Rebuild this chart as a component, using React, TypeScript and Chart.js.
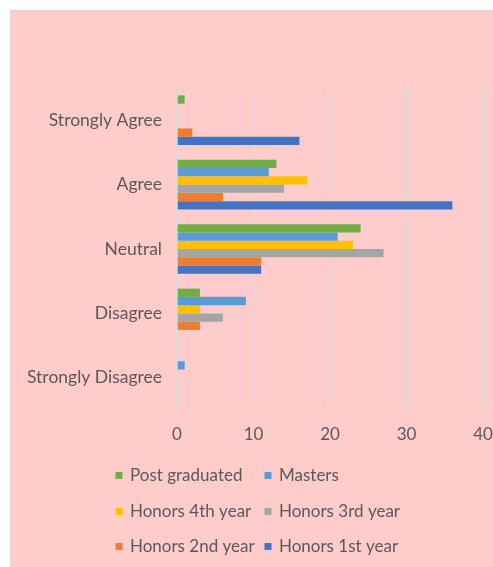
import React, { useEffect, useRef } from "react";
import { Chart, registerables } from "chart.js";

Chart.register(...registerables);

const categories = ["Strongly Agree", "Agree", "Neutral", "Disagree", "Strongly Disagree"];
const seriesNames = [
  "Post graduated",
  "Masters",
  "Honors 4th year",
  "Honors 3rd year",
  "Honors 2nd year",
  "Honors 1st year",
];
const postGraduated = [1, 13, 24, 3, 0];
const masters = [0, 12, 21, 9, 1];
const honors4th = [0, 17, 23, 3, 0];
const honors3rd = [0, 14, 27, 6, 0];
const honors2nd = [2, 6, 11, 3, 0];
const honors1st = [16, 36, 11, 0, 0];
const xTicks = [0, 10, 20, 30, 40];

const seriesValues = [postGraduated, masters, honors4th, honors3rd, honors2nd, honors1st];
const seriesColors = ["#70AD47", "#5B9BD5", "#FFC000", "#A5A5A5", "#ED7D31", "#4472C4"];

const FONT = "Lato, 'Open Sans', sans-serif";
const TEXT = "#595959";

const gridLegend = {
  id: "gridLegend",
  afterDraw(chart: any) {
    const ctx = chart.ctx;
    const colX = [104.5, 253.5];
    const rowY = [464.5, 500.5, 535.5];
    ctx.save();
    ctx.font = `17px ${FONT}`;
    ctx.textBaseline = "middle";
    ctx.textAlign = "left";
    chart.data.datasets.forEach((ds: any, i: number) => {
      const c = i % 2;
      const r = Math.floor(i / 2);
      const x = colX[c];
      const y = rowY[r];
      ctx.fillStyle = ds.backgroundColor;
      ctx.fillRect(x, y - 3.5, 7, 7);
      ctx.fillStyle = TEXT;
      ctx.fillText(ds.label, x + 14.5, y);
    });
    ctx.restore();
  },
};

export default function App() {
  const ref = useRef<HTMLCanvasElement>(null);
  useEffect(() => {
    if (!ref.current) return;
    const chart = new Chart(ref.current, {
      type: "bar",
      data: {
        labels: categories,
        datasets: seriesNames.map((name, i) => ({
          label: name,
          data: seriesValues[i],
          backgroundColor: seriesColors[i],
          borderWidth: 0,
          categoryPercentage: 0.77,
          barPercentage: 1,
        })),
      },
      options: {
        indexAxis: "y",
        responsive: false,
        animation: false,
        layout: { padding: { top: 77, right: 10, bottom: 117, left: 0 } },
        plugins: {
          legend: { display: false },
          tooltip: { enabled: false },
        },
        scales: {
          x: {
            min: 0,
            max: 40,
            afterBuildTicks: (scale: any) => {
              scale.ticks = xTicks.map((v) => ({ value: v }));
            },
            afterFit: (scale: any) => {
              scale.height = 40;
              scale.paddingLeft = 0;
              scale.paddingRight = 0;
            },
            grid: { color: "#D9D9D9", lineWidth: 1.5, drawTicks: false, tickLength: 0 },
            border: { display: false },
            ticks: {
              color: TEXT,
              font: { family: FONT, size: 17 },
              padding: 14,
            },
          },
          y: {
            afterFit: (scale: any) => {
              scale.width = 166;
              scale.paddingTop = 0;
              scale.paddingBottom = 0;
            },
            grid: { display: false, drawTicks: false, tickLength: 0 },
            border: { display: false },
            ticks: {
              color: TEXT,
              font: { family: FONT, size: 17.5 },
              padding: 15,
            },
          },
        },
      },
      plugins: [gridLegend],
    });
    return () => chart.destroy();
  }, []);

  return (
    <div
      style={{
        position: "fixed",
        left: 10,
        top: 10,
        width: 482,
        height: 556,
        borderTop: "1px solid #D9D9D9",
        borderLeft: "1px solid #D9D9D9",
        background: "#FFCCCC",
        overflow: "hidden",
      }}
    >
      <canvas ref={ref} width={482} height={556} style={{ display: "block" }} />
    </div>
  );
}
